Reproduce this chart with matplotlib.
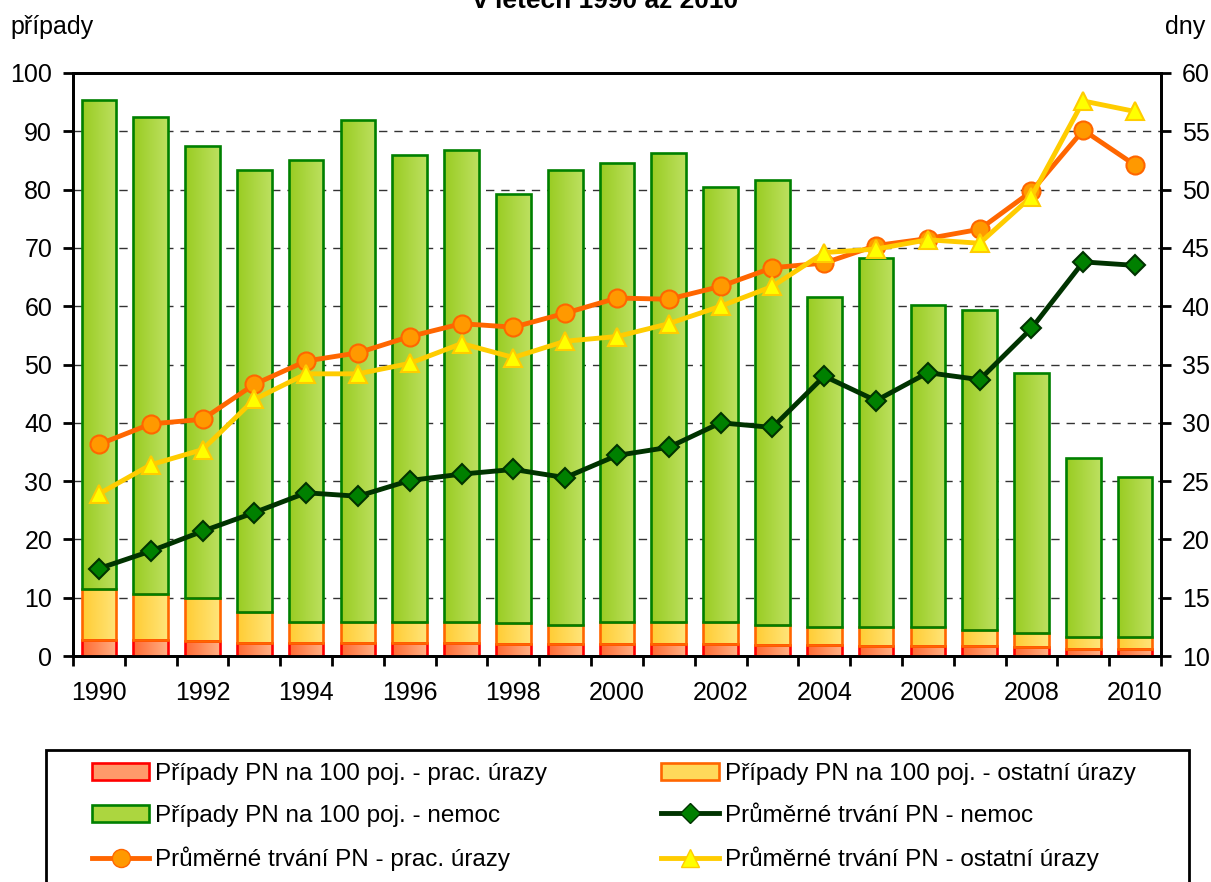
import matplotlib
matplotlib.use("Agg")
import matplotlib.pyplot as plt
import numpy as np
from matplotlib.colors import LinearSegmentedColormap
from matplotlib.patches import Patch, Rectangle
from matplotlib.lines import Line2D

plt.rcParams['font.family'] = ['Liberation Sans', 'DejaVu Sans']

years = list(range(1990, 2011))
tick_years = [str(y) if y % 2 == 0 else "" for y in years]

cases_prac = [2.8, 2.7, 2.6, 2.3, 2.2, 2.3, 2.3, 2.2, 2.1, 2.0, 2.0, 2.0, 2.0, 1.9, 1.9, 1.8, 1.8, 1.7, 1.5, 1.2, 1.2]
cases_ost = [8.7, 7.9, 7.4, 5.2, 3.7, 3.6, 3.6, 3.6, 3.5, 3.4, 3.8, 3.8, 3.8, 3.5, 3.1, 3.2, 3.2, 2.8, 2.5, 2.0, 2.0]
cases_nemoc = [83.8, 81.9, 77.4, 75.9, 79.2, 86.0, 80.0, 81.0, 73.7, 78.0, 78.7, 80.4, 74.6, 76.3, 56.6, 63.2, 55.2, 54.8, 44.6, 30.8, 27.5]

days_nemoc = [17.5, 19.0, 20.7, 22.3, 24.0, 23.7, 25.05, 25.6, 26.0, 25.3, 27.2, 27.9, 30.0, 29.6, 34.0, 31.9, 34.3, 33.7, 38.1, 43.8, 43.5]
days_prac = [28.15, 29.9, 30.3, 33.3, 35.3, 36.0, 37.4, 38.5, 38.2, 39.4, 40.7, 40.6, 41.7, 43.3, 43.7, 45.2, 45.8, 46.6, 49.85, 55.1, 52.1]
days_ost = [23.9, 26.4, 27.7, 32.0, 34.2, 34.2, 35.1, 36.8, 35.6, 37.0, 37.4, 38.5, 40.0, 41.7, 44.6, 44.9, 45.7, 45.4, 49.4, 57.6, 56.7]

labels = [
    "Případy PN na 100 poj. - prac. úrazy",
    "Případy PN na 100 poj. - ostatní úrazy",
    "Případy PN na 100 poj. - nemoc",
    "Průměrné trvání PN - nemoc",
    "Průměrné trvání PN - prac. úrazy",
    "Průměrné trvání PN - ostatní úrazy",
]

fig = plt.figure(figsize=(12.11, 8.82), dpi=100)
ax = fig.add_axes([73/1211, 1-656/882, (1161-73)/1211, (656-73)/882])
ax2 = ax.twinx()

x = np.arange(len(years))
width = 0.67

b_prac = np.array(cases_prac)
b_ost = np.array(cases_ost)
b_nem = np.array(cases_nemoc)

series = [
    (b_prac, np.zeros_like(b_prac), ('#FF6A33', '#FFB084'), '#FF0000'),
    (b_ost, b_prac, ('#FFCC33', '#FFE57A'), '#FF6600'),
    (b_nem, b_prac + b_ost, ('#99CC22', '#BDE060'), '#008000'),
]

grad = np.linspace(0, 1, 64).reshape(1, -1)
for vals, bottom, (c1, c2), ec in series:
    cmap = LinearSegmentedColormap.from_list('g', [c1, c2])
    bars = ax.bar(x, vals, width, bottom=bottom, facecolor='none', edgecolor=ec,
                  linewidth=1.9, zorder=3)
    for r in bars:
        x0, y0, w, h = r.get_x(), r.get_y(), r.get_width(), r.get_height()
        im = ax.imshow(grad, extent=[x0, x0 + w, y0, y0 + h], aspect='auto',
                       cmap=cmap, zorder=2, interpolation='bilinear')
        im.set_clip_path(r)

ax.set_xlim(-0.5, len(years) - 0.5)
ax.set_ylim(0, 100)
ax.set_yticks(np.arange(0, 101, 10))
ax.yaxis.grid(True, color='#333333', linestyle=(0, (6, 5)), linewidth=1.0, zorder=0)
ax.set_axisbelow(True)

ax.set_xticks(np.arange(-0.5, len(years), 1.0))
ax.set_xticklabels([])
ax.set_xticks(x, minor=True)
ax.set_xticklabels(tick_years, minor=True)
ax.tick_params(axis='x', which='major', length=7, width=2, direction='out')
ax.tick_params(axis='x', which='minor', length=0, pad=18, labelsize=18)
ax.tick_params(axis='y', length=7, width=2, direction='out', labelsize=18, pad=8)

ax2.plot(x, days_nemoc, color='#003300', linewidth=3.5, marker='D', markersize=10,
         markerfacecolor='#008000', markeredgecolor='#003300', markeredgewidth=1.5, zorder=4)
ax2.plot(x, days_prac, color='#FF6600', linewidth=3.5, marker='o', markersize=13,
         markerfacecolor='#FF9900', markeredgecolor='#FF6600', markeredgewidth=1.5, zorder=5)
ax2.plot(x, days_ost, color='#FFCC00', linewidth=3.5, marker='^', markersize=13,
         markerfacecolor='#FFFF00', markeredgecolor='#FFCC00', markeredgewidth=1.5, zorder=6)
ax2.set_ylim(10, 60)
ax2.set_yticks(np.arange(10, 61, 5))
ax2.tick_params(axis='y', length=7, width=2, direction='out', labelsize=18, pad=8)

for a in (ax, ax2):
    for s in a.spines.values():
        s.set_linewidth(2)

fig.text(10/1211, 1-27/882, "případy", fontsize=18, va='center', ha='left')
fig.text(1205/1211, 1-27/882, "dny", fontsize=18, va='center', ha='right')
fig.text(0.5, 1-8/882, "v letech 1990 až 2010", fontsize=19, fontweight='bold',
         ha='center', va='baseline')

# legend
handles = [
    Patch(facecolor='#FF9A6A', edgecolor='#FF0000', linewidth=1.9),
    Patch(facecolor='#FFD95A', edgecolor='#FF6600', linewidth=1.9),
    Patch(facecolor='#ACD63F', edgecolor='#008000', linewidth=1.9),
    Line2D([], [], color='#003300', linewidth=3.5, marker='D', markersize=10,
           markerfacecolor='#008000', markeredgecolor='#003300'),
    Line2D([], [], color='#FF6600', linewidth=3.5, marker='o', markersize=13,
           markerfacecolor='#FF9900', markeredgecolor='#FF6600'),
    Line2D([], [], color='#FFCC00', linewidth=3.5, marker='^', markersize=13,
           markerfacecolor='#FFFF00', markeredgecolor='#FFCC00'),
]
order = [0, 2, 4, 1, 3, 5]
leg = fig.legend([handles[i] for i in order], [labels[i] for i in order], ncol=2,
                 loc='upper left', bbox_to_anchor=(92/1211, 1-763/882),
                 frameon=False, fontsize=17.5, handlelength=2.35, handleheight=0.7,
                 handletextpad=0.25, columnspacing=4.7, labelspacing=0.82,
                 borderpad=0, borderaxespad=0)
fig.add_artist(Rectangle((46/1211, -0.05), (1189-46)/1211, 0.05 + (882-750)/882,
                         transform=fig.transFigure, fill=False, edgecolor='black',
                         linewidth=2))

fig.savefig("out.png", dpi=100)
